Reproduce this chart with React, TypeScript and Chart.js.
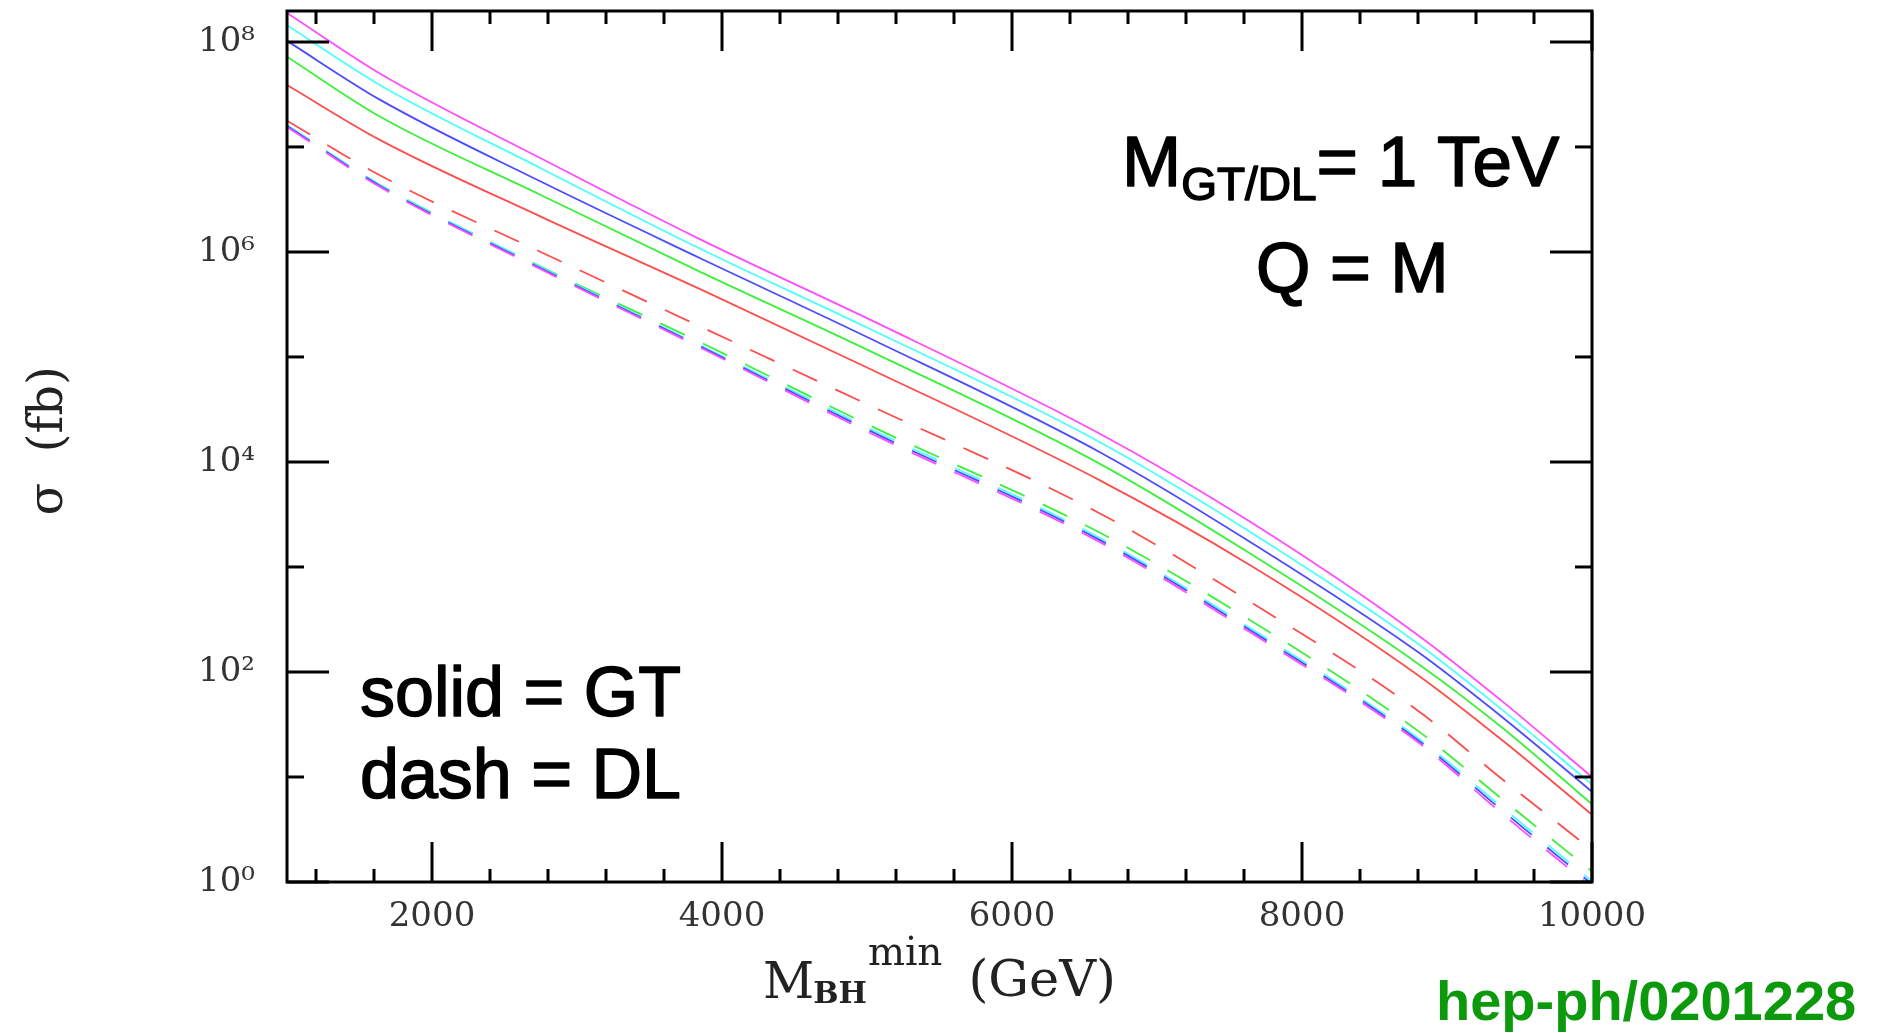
import React, { useEffect, useRef } from 'react';
import { Chart, registerables } from 'chart.js';

Chart.register(...registerables);

// Minimum black-hole mass M_BH^min (GeV)
const massGeV = [1000, 1640, 2750, 3850, 5000, 6600, 7640, 8800, 9390, 10000];

// Cross sections sigma (fb), GT = solid lines
const gtMagenta = [1.888e8, 5.01e7, 7.8e6, 1.318e6, 2.34e5, 1.875e4, 2704, 224, 51.3, 10];
const gtCyan = [1.445e8, 3.89e7, 6.27e6, 1.072e6, 1.905e5, 1.56e4, 2168, 186, 42.6, 8.5];
const gtBlue = [1.023e8, 2.82e7, 4.68e6, 8.71e5, 1.549e5, 1.253e4, 1742, 155, 36.3, 7.24];
const gtGreen = [7.24e7, 1.95e7, 3.49e6, 6.46e5, 1.175e5, 9700, 1349, 120, 28.8, 5.5];
const gtRed = [3.89e7, 1.167e7, 2.17e6, 4.42e5, 7.94e4, 6750, 1045, 93.3, 21.9, 4.37];

// DL = dashed lines
const dlRed = [1.778e7, 5.37e6, 1.0e6, 1.95e5, 3.55e4, 3270, 468, 42.7, 9.3, 2.02];
const dlGreen = [1.585e7, 4.37e6, 7.24e5, 1.38e5, 2.29e4, 2140, 313, 27.5, 6.0, 1.26];
const dlCyan = [1.62e7, 4.37e6, 7.16e5, 1.29e5, 2.14e4, 1905, 263, 23.4, 5.0, 1.02];
const dlBlue = [1.585e7, 4.27e6, 7.0e5, 1.26e5, 2.04e4, 1820, 251, 22.4, 4.68, 0.955];
const dlMagenta = [1.55e7, 4.17e6, 6.84e5, 1.23e5, 1.95e4, 1740, 240, 21.4, 4.36, 0.89];

// Axis ticks
const yTickValues = [1, 10, 100, 1e3, 1e4, 1e5, 1e6, 1e7, 1e8];
const yTickLabels = ['10⁰', '', '10²', '', '10⁴', '', '10⁶', '', '10⁸'];
const xTickValues = [1200, 1600, 2000, 2400, 2800, 3200, 3600, 4000, 4400, 4800, 5200, 5600, 6000, 6400, 6800, 7200, 7600, 8000, 8400, 8800, 9200, 9600, 10000];
const xTickLabels = ['', '', '2000', '', '', '', '', '4000', '', '', '', '', '6000', '', '', '', '', '8000', '', '', '', '', '10000'];

const X_MIN = 1000;
const X_MAX = 10000;
const Y_MIN = 1;
const Y_MAX = 1.97e8;

const COLORS = {
  magenta: '#ff4cff',
  cyan: '#4cffff',
  blue: '#4c4cff',
  green: '#3cf03c',
  red: '#ff4c4c',
};

function series(values: number[]) {
  return massGeV.map((m, i) => ({ x: m, y: values[i] }));
}

const frameAndText = {
  id: 'frameAndText',
  afterDraw(chart: any) {
    const { ctx, chartArea, scales } = chart;
    const { left, right, top, bottom } = chartArea;
    const x = scales.x;
    const y = scales.y;
    ctx.save();
    ctx.strokeStyle = '#000';
    ctx.lineWidth = 3;
    ctx.lineCap = 'butt';
    ctx.strokeRect(left, top, right - left, bottom - top);
    const seg = (x1: number, y1: number, x2: number, y2: number) => {
      ctx.beginPath();
      ctx.moveTo(x1, y1);
      ctx.lineTo(x2, y2);
      ctx.stroke();
    };
    yTickValues.forEach((v, i) => {
      const py = y.getPixelForValue(v);
      const len = yTickLabels[i] ? 42 : 17;
      seg(left, py, left + len, py);
      seg(right, py, right - len, py);
    });
    xTickValues.forEach((v, i) => {
      const px = x.getPixelForValue(v);
      const len = xTickLabels[i] ? 40 : 13;
      seg(px, bottom, px, bottom - len);
      seg(px, top, px, top + len);
    });

    // x-axis title: M_BH^min (GeV)
    ctx.fillStyle = '#222';
    ctx.textBaseline = 'alphabetic';
    ctx.textAlign = 'left';
    let cx = 763;
    ctx.font = '50px "DejaVu Serif"';
    ctx.fillText('M', cx, 998);
    cx += ctx.measureText('M').width - 1;
    ctx.font = 'bold 30px "DejaVu Serif"';
    ctx.fillText('BH', cx, 1003);
    cx += ctx.measureText('BH').width + 1;
    ctx.font = '39px "DejaVu Serif"';
    ctx.fillText('min', cx, 965);
    cx += ctx.measureText('min').width + 26;
    ctx.font = '51px "DejaVu Serif"';
    ctx.fillText('(GeV)', cx, 996);

    // y-axis title: sigma (fb)
    ctx.save();
    ctx.translate(62, 441);
    ctx.rotate(-Math.PI / 2);
    ctx.textAlign = 'center';
    ctx.font = '48px "DejaVu Serif"';
    ctx.fillText('σ  (fb)', 0, 0);
    ctx.restore();

    // annotations
    ctx.fillStyle = '#000';
    ctx.strokeStyle = '#000';
    ctx.lineWidth = 1.5;
    ctx.lineJoin = 'round';
    ctx.textAlign = 'left';
    const txt = (s: string, px: number, py: number) => {
      ctx.fillText(s, px, py);
      ctx.strokeText(s, px, py);
    };
    let ax = 1122;
    ctx.font = '71px "Liberation Sans"';
    txt('M', ax, 186);
    ax += ctx.measureText('M').width;
    ctx.font = '46px "Liberation Sans"';
    txt('GT/DL', ax, 200);
    ax += ctx.measureText('GT/DL').width;
    ctx.font = '71px "Liberation Sans"';
    txt('= 1 TeV', ax, 186);
    ctx.font = '70px "Liberation Sans"';
    txt('Q = M', 1256, 292);
    txt('solid = GT', 360, 716);
    txt('dash = DL', 360, 798);

    ctx.fillStyle = '#0c990c';
    ctx.font = 'bold 56px "Liberation Sans"';
    ctx.fillText('hep-ph/0201228', 1436, 1020);
    ctx.restore();
  },
};

export default function App() {
  const canvasRef = useRef<HTMLCanvasElement | null>(null);

  useEffect(() => {
    const canvas = canvasRef.current;
    if (!canvas) return;
    const solid = (label: string, values: number[], color: string) => ({
      label,
      data: series(values),
      borderColor: color,
      backgroundColor: color,
      borderWidth: 1.8,
      pointRadius: 0,
      cubicInterpolationMode: 'monotone' as const,
      fill: false,
    });
    const dashed = (label: string, values: number[], color: string) => ({
      ...solid(label, values, color),
      borderDash: [27, 20],
    });
    const chart = new Chart(canvas, {
      type: 'line',
      data: {
        datasets: [
          dashed('DL magenta', dlMagenta, COLORS.magenta),
          dashed('DL blue', dlBlue, COLORS.blue),
          dashed('DL cyan', dlCyan, COLORS.cyan),
          dashed('DL green', dlGreen, COLORS.green),
          dashed('DL red', dlRed, COLORS.red),
          solid('GT red', gtRed, COLORS.red),
          solid('GT green', gtGreen, COLORS.green),
          solid('GT blue', gtBlue, COLORS.blue),
          solid('GT cyan', gtCyan, COLORS.cyan),
          solid('GT magenta', gtMagenta, COLORS.magenta),
        ],
      },
      options: {
        responsive: false,
        maintainAspectRatio: false,
        devicePixelRatio: 1,
        animation: false,
        events: [],
        layout: { padding: { left: 0, top: 11, right: 289, bottom: 0 } },
        plugins: {
          legend: { display: false },
          tooltip: { enabled: false },
          title: { display: false },
        },
        scales: {
          x: {
            type: 'linear',
            min: X_MIN,
            max: X_MAX,
            afterBuildTicks: (scale: any) => {
              scale.ticks = xTickValues.map((v) => ({ value: v }));
            },
            afterFit: (scale: any) => {
              scale.height = 151;
              scale.paddingLeft = 0;
              scale.paddingRight = 0;
              scale.paddingTop = 0;
              scale.paddingBottom = 0;
            },
            grid: { display: false, drawTicks: false },
            border: { display: false },
            ticks: {
              autoSkip: false,
              maxRotation: 0,
              minRotation: 0,
              padding: 15,
              color: '#333',
              font: { family: '"DejaVu Serif"', size: 34 },
              callback: (_v: any, i: number) => xTickLabels[i],
            },
          },
          y: {
            type: 'logarithmic',
            min: Y_MIN,
            max: Y_MAX,
            afterBuildTicks: (scale: any) => {
              scale.ticks = yTickValues.map((v) => ({ value: v }));
            },
            afterFit: (scale: any) => {
              scale.width = 287;
              scale.paddingLeft = 0;
              scale.paddingRight = 0;
              scale.paddingTop = 0;
              scale.paddingBottom = 0;
            },
            grid: { display: false, drawTicks: false },
            border: { display: false },
            ticks: {
              autoSkip: false,
              padding: 32,
              color: '#333',
              font: { family: '"DejaVu Serif"', size: 34 },
              callback: (_v: any, i: number) => yTickLabels[i],
            },
          },
        },
      },
      plugins: [frameAndText],
    });
    return () => chart.destroy();
  }, []);

  return (
    <div style={{ position: 'fixed', left: 0, top: 0, width: 1881, height: 1033, background: '#fff' }}>
      <canvas ref={canvasRef} width={1881} height={1033} style={{ width: 1881, height: 1033, display: 'block' }} />
    </div>
  );
}
